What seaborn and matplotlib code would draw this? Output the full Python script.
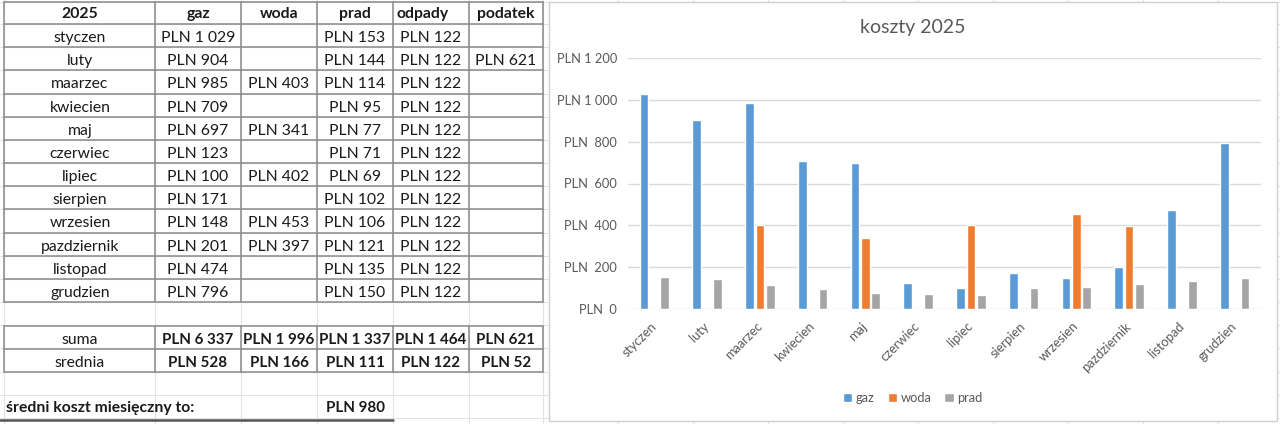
import numpy as np
import pandas as pd
import matplotlib
matplotlib.use("Agg")
import matplotlib.pyplot as plt
import seaborn as sns
from matplotlib.patches import Rectangle

# =========================
# Data
# =========================
months = ["styczen", "luty", "maarzec", "kwiecien", "maj", "czerwiec",
          "lipiec", "sierpien", "wrzesien", "pazdziernik", "listopad", "grudzien"]
gaz = [1029, 904, 985, 709, 697, 123, 100, 171, 148, 201, 474, 796]
woda = [None, None, 403, None, 341, None, 402, None, 453, 397, None, None]
prad = [153, 144, 114, 95, 77, 71, 69, 102, 106, 121, 135, 150]
odpady = [122] * 12
podatek = [None, 621, None, None, None, None, None, None, None, None, None, None]

table_cols = ["gaz", "woda", "prad", "odpady", "podatek"]
chart_series = ["gaz", "woda", "prad"]
colors = {"gaz": "#5B9BD5", "woda": "#ED7D31", "prad": "#A5A5A5"}
y_ticks = [0, 200, 400, 600, 800, 1000, 1200]

series = {"gaz": gaz, "woda": woda, "prad": prad, "odpady": odpady, "podatek": podatek}


def pln(v):
    if v is None:
        return ""
    return "PLN " + f"{int(round(v)):,}".replace(",", " ")


def pln_axis(v):
    v = int(v)
    return "PLN " + f"{v:,}".replace(",", " ") if v >= 1000 else f"PLN  {v}"


sums = {c: sum(x for x in series[c] if x is not None) for c in table_cols}
means = {c: sums[c] / 12 for c in table_cols}
monthly_cost = sum(sums.values()) / 12

# long form for seaborn
rows = []
for s in chart_series:
    for m, v in zip(months, series[s]):
        if v is not None:
            rows.append({"miesiac": m, "seria": s, "koszt": v})
df = pd.DataFrame(rows)

# =========================
# Style
# =========================
sns.set_theme(style="white")
plt.rcParams["font.family"] = ["Lato", "DejaVu Sans"]

W, H = 1280, 424
fig = plt.figure(figsize=(W / 100, H / 100), dpi=100)

# ---- sheet background (pixel coords) ----
bg = fig.add_axes([0, 0, 1, 1])
bg.set_xlim(0, W)
bg.set_ylim(H, 0)
bg.axis("off")

faint = "#e3e3e3"
border = "#8a8a8a"
FS = 11.3
FSB = 10.9        # bold totals are a touch narrower
dy = 2.5          # Excel puts text a bit low in the cell
col_x = [4, 155, 241, 317, 393, 469, 543]
sheet_cols = col_x + [618, 693, 768, 843, 918, 993, 1068, 1143, 1218]
row_h = 23.17
row_y = [2, 24] + [24 + row_h * k for k in range(1, 18)]

for x in sheet_cols:
    bg.plot([x, x], [0, H], color=faint, lw=0.8, zorder=0)
for y in row_y:
    bg.plot([0, W], [y, y], color=faint, lw=0.8, zorder=0)

# main table
top, bot = 2, 24 + row_h * 12
for y in [2, 24] + [24 + row_h * k for k in range(1, 13)]:
    bg.plot([col_x[0], col_x[-1]], [y, y], color=border, lw=1.1, zorder=2)
for x in col_x:
    bg.plot([x, x], [top, bot], color=border, lw=1.1, zorder=2)

txt = "#1a1a1a"
bg.text(80, 14, "2025", ha="center", va="center", fontsize=FS, fontweight="bold", color=txt)
for j, c in enumerate(table_cols):
    cx = (col_x[j + 1] + col_x[j + 2]) / 2
    if c == "odpady":
        cx -= 8
    bg.text(cx, 14, c, ha="center", va="center", fontsize=FS, fontweight="bold", color=txt)

for i, m in enumerate(months):
    cy = 24 + row_h * (i + 0.5) + dy
    bg.text(80, cy, m, ha="center", va="center", fontsize=FS, color=txt)
    for j, c in enumerate(table_cols):
        cx = (col_x[j + 1] + col_x[j + 2]) / 2
        bg.text(cx, cy, pln(series[c][i]), ha="center", va="center", fontsize=FS, color=txt)

# summary block
s_top, s_mid, s_bot = 326, 349, 372
for y in [s_top, s_mid, s_bot]:
    bg.plot([col_x[0], col_x[-1]], [y, y], color=border, lw=1.1, zorder=2)
for x in col_x:
    bg.plot([x, x], [s_top, s_bot], color=border, lw=1.1, zorder=2)
bg.text(80, (s_top + s_mid) / 2 + dy, "suma", ha="center", va="center", fontsize=FS, color=txt)
bg.text(80, (s_mid + s_bot) / 2 + dy, "srednia", ha="center", va="center", fontsize=FS, color=txt)
for j, c in enumerate(table_cols):
    cx = (col_x[j + 1] + col_x[j + 2]) / 2
    bg.text(cx, (s_top + s_mid) / 2 + dy, pln(sums[c]), ha="center", va="center",
            fontsize=FSB, fontweight="bold", color=txt)
    bg.text(cx, (s_mid + s_bot) / 2 + dy, pln(means[c]), ha="center", va="center",
            fontsize=FSB, fontweight="bold", color=txt)

# monthly average row
bg.text(6, 408, "średni koszt miesięczny to:", ha="left", va="center",
        fontsize=FS, fontweight="bold", color=txt)
bg.text(355, 408, pln(monthly_cost), ha="center", va="center",
        fontsize=FSB, fontweight="bold", color=txt)
bg.plot([0, 393], [419.5, 419.5], color="#555555", lw=1.8, zorder=2)

# chart panel
bg.add_patch(Rectangle((549, 2), 728, 419, facecolor="white", edgecolor="#d0d0d0",
                       lw=1.0, zorder=3))

# =========================
# Chart
# =========================
ax = fig.add_axes([628 / W, (H - 309) / H, 633 / W, 251 / H])
ax.set_facecolor("none")
ax.set_zorder(5)

sns.barplot(data=df, x="miesiac", y="koszt", hue="seria", order=months,
            hue_order=chart_series, palette=colors, width=0.59, gap=0.17,
            errorbar=None, saturation=1, ax=ax)

ax.set_ylim(0, 1200)
ax.set_yticks(y_ticks)
ax.set_yticklabels([pln_axis(v) for v in y_ticks])
ax.yaxis.grid(True, color="#d9d9d9", lw=1.0)
ax.set_axisbelow(True)
for sp in ax.spines.values():
    sp.set_visible(False)
ax.set_xlabel("")
ax.set_ylabel("")
ax.tick_params(axis="both", length=0, colors="#595959", labelsize=9.3)
ax.tick_params(axis="y", pad=8)
ax.set_xticks(range(len(months)))
ax.set_xticklabels(months, rotation=45, ha="right", va="center",
                   rotation_mode="anchor")
ax.tick_params(axis="x", pad=11)

ax.set_title("koszty 2025", fontsize=14, color="#595959", pad=0, y=1.0)
ax.title.set_transform(bg.transData)
ax.title.set_position((913, 28))
ax.title.set_va("center")

sns.move_legend(ax, "center", bbox_to_anchor=(0.45, -0.355), ncol=3, frameon=False,
                title=None, fontsize=9.3, handlelength=0.7, handleheight=0.7,
                columnspacing=1.0, handletextpad=0.3)
for t in ax.get_legend().get_texts():
    t.set_color("#595959")

fig.savefig("out.png", dpi=100)
